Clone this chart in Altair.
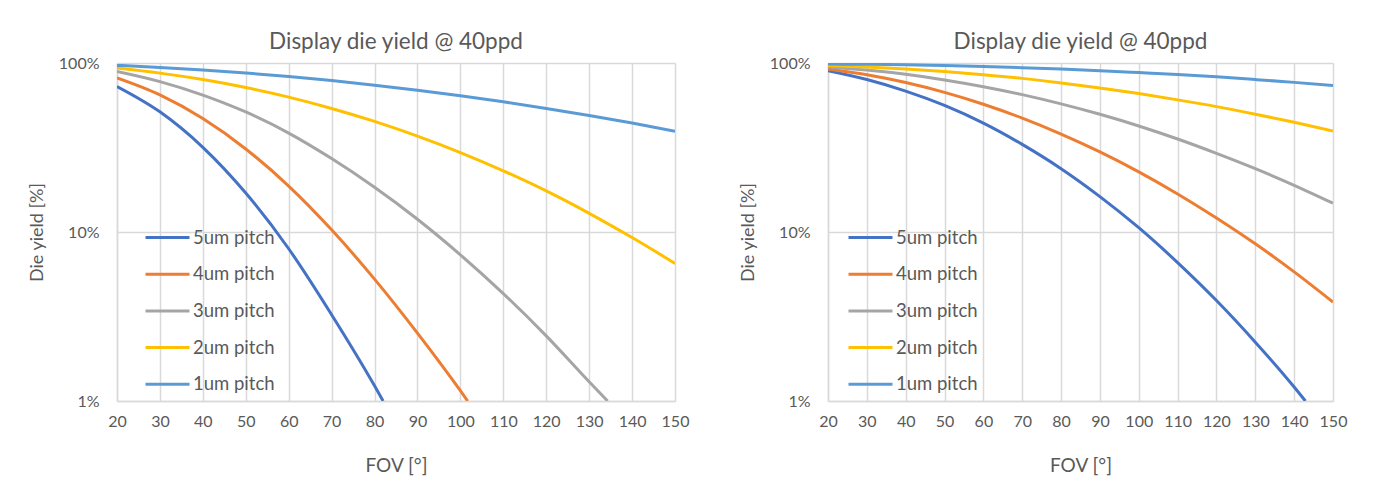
import altair as alt
import pandas as pd

FOV = [20, 30, 40, 50, 60, 70, 80, 90, 100, 110, 120, 130, 140, 150]
PITCHES = ["5um pitch", "4um pitch", "3um pitch", "2um pitch", "1um pitch"]
COLORS = ["#4472C4", "#ED7D31", "#A5A5A5", "#FFC000", "#5B9BD5"]

# Left panel (yield in %); curves that leave the 1% floor end at the crossing point
L_5um_fov = [20, 30, 40, 50, 60, 70, 80, 82]
L_5um = [72.6, 51.4, 31.7, 17.0, 7.96, 3.24, 1.23, 1.0]
L_4um_fov = [20, 30, 40, 50, 60, 70, 80, 90, 100, 101.7]
L_4um = [81.5, 64.7, 46.9, 31.0, 18.7, 10.3, 5.26, 2.52, 1.15, 1.0]
L_3um_fov = [20, 30, 40, 50, 60, 70, 80, 90, 100, 110, 120, 130, 134.3]
L_3um = [89.1, 77.6, 64.6, 51.3, 38.5, 27.2, 18.4, 11.9, 7.33, 4.32, 2.43, 1.30, 1.0]
L_2um = [93.4, 87.1, 79.8, 71.6, 62.8, 53.8, 45.1, 36.9, 29.5, 23.0, 17.5, 12.9, 9.27, 6.52]
L_1um = [96.8, 94.2, 91.0, 87.3, 83.2, 78.7, 73.9, 69.0, 64.0, 58.9, 53.8, 48.9, 44.1, 39.4]

# Right panel (yield in %)
R_5um_fov = [20, 30, 40, 50, 60, 70, 80, 90, 100, 110, 120, 130, 140, 142.9]
R_5um = [90.0, 79.8, 68.2, 56.1, 44.1, 33.0, 23.7, 16.2, 10.6, 6.59, 3.93, 2.23, 1.21, 1.0]
R_4um = [92.1, 85.1, 76.6, 67.0, 57.0, 47.2, 38.0, 29.8, 22.7, 16.8, 12.1, 8.51, 5.81, 3.85]
R_3um = [94.7, 90.8, 85.7, 79.4, 72.4, 65.0, 57.3, 49.7, 42.4, 35.5, 29.2, 23.7, 18.9, 14.8]
R_2um = [96.6, 94.8, 92.3, 89.1, 85.3, 81.1, 76.2, 71.2, 65.9, 60.5, 55.2, 49.8, 44.6, 39.6]
R_1um = [98.6, 98.2, 97.5, 96.5, 95.3, 93.8, 92.0, 90.0, 87.8, 85.5, 82.8, 79.8, 76.8, 73.6]


def frame(series):
    rows = []
    for pitch, xs, ys in series:
        for x, y in zip(xs, ys):
            rows.append({"pitch": pitch, "fov": x, "yield": y})
    return pd.DataFrame(rows)


left_df = frame([
    ("5um pitch", L_5um_fov, L_5um),
    ("4um pitch", L_4um_fov, L_4um),
    ("3um pitch", L_3um_fov, L_3um),
    ("2um pitch", FOV, L_2um),
    ("1um pitch", FOV, L_1um),
])
right_df = frame([
    ("5um pitch", R_5um_fov, R_5um),
    ("4um pitch", FOV, R_4um),
    ("3um pitch", FOV, R_3um),
    ("2um pitch", FOV, R_2um),
    ("1um pitch", FOV, R_1um),
])

FONT = "Lato"
TXT = "#595959"
GRID = "#D9D9D9"


def panel(df, width, lx, ly):
    return alt.Chart(df).mark_line(strokeWidth=3, interpolate="monotone", clip=True).encode(
        x=alt.X("fov:Q",
                scale=alt.Scale(domain=[20, 150], nice=False, zero=False),
                axis=alt.Axis(values=FOV, title="FOV [°]", grid=True, ticks=False,
                              labelOverlap=False, labelFlush=False, labelPadding=12,
                              titlePadding=27, titleFontSize=19)),
        y=alt.Y("yield:Q",
                scale=alt.Scale(type="log", domain=[1, 100], nice=False),
                axis=alt.Axis(values=[1, 10, 100], labelExpr="datum.value + '%'",
                              title="Die yield [%]", grid=True, ticks=False,
                              labelPadding=18, titlePadding=12, titleFontSize=18)),
        color=alt.Color("pitch:N",
                        scale=alt.Scale(domain=PITCHES, range=COLORS),
                        sort=PITCHES,
                        legend=alt.Legend(title=None, orient="none", legendX=lx, legendY=ly,
                                          symbolType="stroke", symbolSize=1936,
                                          symbolStrokeWidth=3, labelFontSize=18.5,
                                          labelFont=FONT, labelColor=TXT,
                                          rowPadding=3.7, labelOffset=2)),
        detail="pitch:N",
    ).properties(
        width=width, height=338,
        title=alt.TitleParams("Display die yield @ 40ppd", fontSize=22.5, font=FONT,
                              color=TXT, fontWeight="normal", offset=2),
    )


left = panel(left_df, 558, 27, 151)
right = panel(right_df, 505, 19, 151)

chart = alt.hconcat(left, right, spacing=50).resolve_legend(color="independent").resolve_scale(
    color="independent"
).properties(
    padding={"left": 20, "top": 22, "right": 5, "bottom": 5}
).configure_view(stroke=None).configure_axis(
    labelFont=FONT, titleFont=FONT, labelFontSize=16,
    labelColor=TXT, titleColor=TXT, titleFontWeight="normal",
    gridColor=GRID, gridWidth=1.5, domainColor=GRID, domainWidth=1.5,
)

chart.save("out.html", embed_options={"renderer": "svg", "actions": False})
